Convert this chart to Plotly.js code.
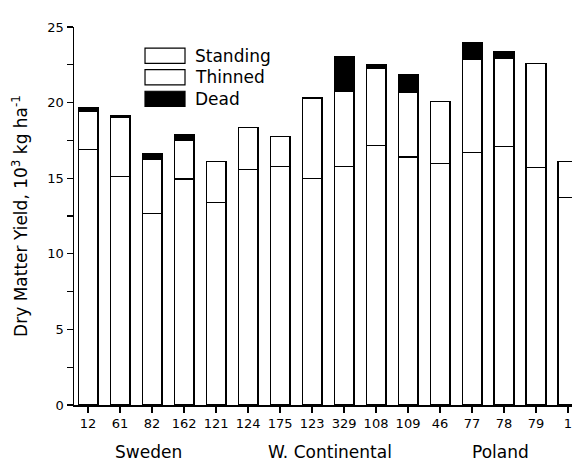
<!DOCTYPE html>
<html>
<head>
<meta charset="utf-8">
<script src="https://cdn.plot.ly/plotly-3.0.1.min.js"></script>
<style>html,body{margin:0;padding:0;background:#fff;}#chart{width:572px;height:462px;}</style>
</head>
<body>
<div id="chart"></div>
<script>
// Site labels (x categories)
const sites = ["12","61","82","162","121","124","175","123","329","108","109","46","77","78","79","1"];
// Stacked components, 10^3 kg/ha
const standing = [16.9,15.1,12.65,14.95,13.4,15.55,15.75,15.0,15.8,17.15,16.4,15.95,16.7,17.1,15.7,13.7];
const thinned  = [2.55,3.9,3.6,2.55,2.7,2.8,2.0,5.3,4.95,5.1,4.3,4.1,6.15,5.85,6.9,2.4];
const dead     = [0.25,0.15,0.35,0.4,0,0,0,0,2.3,0.25,1.15,0,1.1,0.45,0,0];
// Region group labels and their centre positions (category index)
const regions = ["Sweden","W. Continental","Poland"];
const regionPos = [1.9,7.55,12.9];
const seriesNames = ["Standing","Thinned","Dead"];
const seriesFill = ["#ffffff","#ffffff","#000000"];

const FONT = "DejaVu Sans, Arial, sans-serif";
const barW = 0.62;
const line = {color:"#000", width:1.2};

const traces = [standing, thinned, dead].map((vals,i)=>({
  type:"bar", x:sites, y:vals, name:seriesNames[i], width:barW,
  marker:{color:seriesFill[i], line:line}, showlegend:false, hoverinfo:"skip"
}));

// Custom legend (wide boxes like the original)
const shapes = [];
const annotations = [];
const legTop = 0.944, legStep = 0.057, boxH = 0.04;
seriesNames.forEach((n,i)=>{
  const y1 = legTop - i*legStep, y0 = y1 - boxH;
  shapes.push({type:"rect", xref:"paper", yref:"paper", x0:0.1426, x1:0.2229, y0:y0, y1:y1,
    fillcolor:seriesFill[i], line:{color:"#000", width:1.2}});
  annotations.push({xref:"paper", yref:"paper", x:0.238, y:(y0+y1)/2, xanchor:"left", yanchor:"middle",
    text:n, showarrow:false, font:{family:FONT, size:17, color:"#000"}});
});
regions.forEach((r,i)=>{
  annotations.push({xref:"x", yref:"paper", x:regionPos[i], y:-0.124, xanchor:"center", yanchor:"middle",
    text:r, showarrow:false, font:{family:FONT, size:17, color:"#000"}});
});

const layout = {
  width:572, height:462,
  margin:{l:74, r:0, t:27, b:57, pad:0},
  paper_bgcolor:"#fff", plot_bgcolor:"#fff",
  barmode:"stack", bargap:0,
  font:{family:FONT, size:13, color:"#000"},
  xaxis:{type:"category", range:[-0.44,15.125], showline:true, linecolor:"#000", linewidth:1.5,
    ticks:"outside", ticklen:6, tickwidth:1.2, tickcolor:"#000", showgrid:false, zeroline:false,
    tickfont:{family:FONT, size:13, color:"#000"}, fixedrange:true},
  yaxis:{range:[0,25], tickvals:[0,5,10,15,20,25], showline:true, linecolor:"#000", linewidth:1.5,
    ticks:"outside", ticklen:6, tickwidth:1.2, tickcolor:"#000", showgrid:false, zeroline:false,
    minor:{dtick:2.5, ticks:"outside", ticklen:6, tickwidth:1.2, tickcolor:"#000", showgrid:false},
    tickfont:{family:FONT, size:13, color:"#000"},
    title:{text:"Dry Matter Yield, 10<sup>3</sup> kg ha<sup>-1</sup>", font:{family:FONT, size:17, color:"#000"}, standoff:15},
    fixedrange:true},
  shapes:shapes, annotations:annotations, showlegend:false
};

Plotly.newPlot("chart", traces, layout, {staticPlot:true, displayModeBar:false});
</script>
</body>
</html>
